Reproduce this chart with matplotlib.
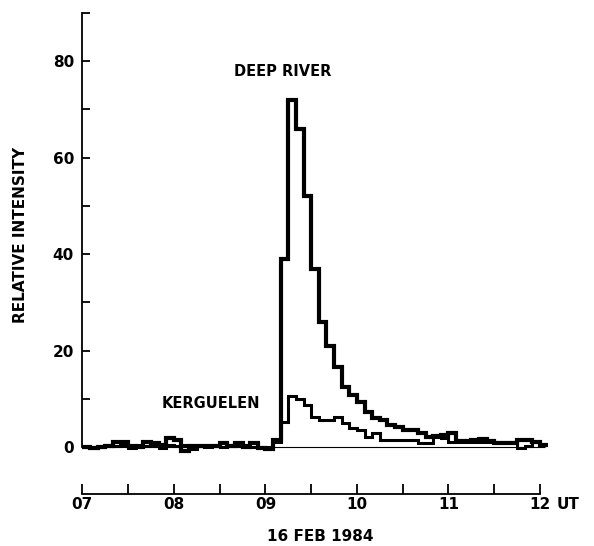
import numpy as np
import matplotlib
matplotlib.use('Agg')
import matplotlib.pyplot as plt

# 5-minute bins starting at 07:00 UT, 16 Feb 1984
bin_minutes = 5
start_hour = 7

deep_river = [0, -0.3, 0, 0.2, 1, 1, 0.3, 0, 1, 0.8, 0.5, 1.8,
              1.5, -0.8, 0.2, 0.2, 0.2, 0.3, 0.8, 0.2, 0.8, 0, 0.8, -0.3,
              -0.5, 1.4, 39, 72, 66, 52, 37, 26, 21, 16.5, 12.4, 10.7,
              9.3, 7.2, 6.0, 5.6, 4.5, 4.1, 3.5, 3.5, 2.9, 2.1, 2.3, 2.5,
              2.9, 1.2, 1.2, 1.4, 1.6, 1.2, 0.8, 0.8, 0.8, 1.4, 1.4, 1.0,
              0.4]

kerguelen = [0, -0.3, 0, 0.5, 0.3, 0.5, -0.2, 0.5, 0.3, 0.3, -0.2, 0.4,
             0.3, 0.5, -0.5, 0.2, 0, 0.5, 0, 0.4, 0.2, 0.5, 0, 0,
             0, 1.0, 5.2, 10.5, 10, 8.7, 6.2, 5.6, 5.6, 6.2, 5.0, 3.9,
             3.5, 2.1, 2.9, 1.4, 1.4, 1.4, 1.4, 1.4, 0.8, 0.8, 2.0, 1.8,
             1.0, 1.0, 1.0, 1.0, 1.0, 1.0, 1.0, 1.0, 1.0, -0.2, 0.2, 1.0]

y_ticks = [0, 20, 40, 60, 80]
hour_ticks = [7, 8, 9, 10, 11, 12]
hour_labels = ['07', '08', '09', '10', '11', '12']


def edges_for(values):
    return start_hour + np.arange(len(values) + 1) * bin_minutes / 60.0


plt.rcParams['font.family'] = 'DejaVu Sans'
plt.rcParams['font.weight'] = 'bold'

fig = plt.figure(figsize=(5.94, 5.46), dpi=100)
ax = fig.add_axes([0.1386, 0.1637, 0.7936, 0.8125])

ax.stairs(deep_river, edges_for(deep_river), baseline=None,
          color='black', linewidth=3.0)
ax.stairs(kerguelen, edges_for(kerguelen), baseline=None,
          color='black', linewidth=2.2)
ax.hlines(0, 7, 12.05, color='black', linewidth=0.8)

ax.set_xlim(7, 12.15)
ax.set_ylim(-2, 90)
for side in ['top', 'right', 'bottom']:
    ax.spines[side].set_visible(False)
ax.spines['left'].set_bounds(0, 90)
ax.spines['left'].set_linewidth(1.3)
ax.set_xticks([])
ax.set_yticks(y_ticks)
ax.set_yticks(np.arange(10, 100, 20), minor=True)
ax.tick_params(axis='y', which='both', direction='in', length=6,
               width=1.3, pad=6, labelsize=11)
ax.set_ylabel('RELATIVE INTENSITY', fontsize=11, fontweight='bold',
              labelpad=18)

ax.text(9.19, 77.8, 'DEEP RIVER', ha='center', va='center',
        fontsize=10.5, fontweight='bold')
ax.text(8.40, 9.1, 'KERGUELEN', ha='center', va='center',
        fontsize=10.5, fontweight='bold')

# separate time scale below the plot
ax2 = fig.add_axes([0.1386, 0.0952, 0.7936, 0.001])
ax2.set_xlim(7, 12.15)
for side in ['top', 'right', 'left']:
    ax2.spines[side].set_visible(False)
ax2.spines['bottom'].set_bounds(7, 12)
ax2.spines['bottom'].set_linewidth(1.3)
ax2.set_yticks([])
ax2.set_xticks(hour_ticks)
ax2.set_xticklabels(hour_labels)
ax2.set_xticks(np.arange(7.5, 12, 1.0), minor=True)
ax2.tick_params(axis='x', which='both', direction='in', length=7,
                width=1.3, pad=2, labelsize=11)
ax2.annotate('UT', xy=(12.12, 0), xycoords=('data', 'axes fraction'),
             xytext=(4, -2), textcoords='offset points', ha='left',
             va='top', fontsize=11, fontweight='bold')
ax2.annotate('16 FEB 1984', xy=(9.6, 0), xycoords=('data', 'axes fraction'),
             xytext=(0, -25), textcoords='offset points', ha='center',
             va='top', fontsize=11, fontweight='bold')

fig.savefig('out.png', dpi=100)
